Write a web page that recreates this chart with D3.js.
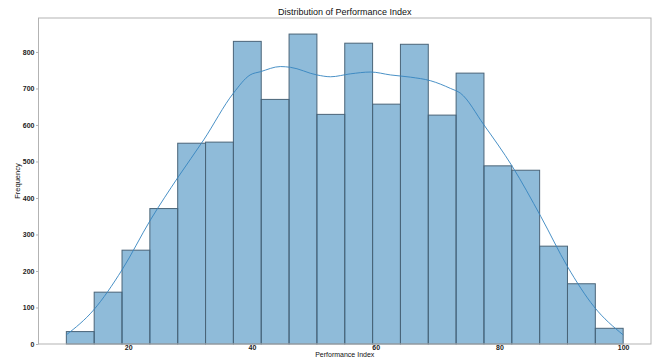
<!DOCTYPE html>
<html>
<head>
<meta charset="utf-8">
<script src="https://cdn.jsdelivr.net/npm/d3@7"></script>
<style>
  html, body { margin: 0; padding: 0; background: #fff; overflow: hidden; }
  svg { display: block; }
  text { font-family: "Liberation Sans", Arial, sans-serif; }
</style>
</head>
<body>
<svg id="chart" width="654" height="358"></svg>
<script>
// Histogram bin edges (20 bins of width 4.5 from 10 to 100)
const binStart = 10;
const binWidth = 4.5;
const counts = [34, 142, 257, 371, 550, 553, 829, 670, 849, 629,
                824, 657, 821, 627, 742, 488, 476, 268, 165, 43];

// Kernel density estimate, scaled to counts
const kdeX = [10, 14.4, 19.0, 23.6, 28.1, 32.2, 37.0, 39.7, 41.4, 44.6, 46.2, 50.5, 52.7,
              55.9, 59.2, 62.4, 65.6, 68.9, 72.1, 73.7, 77.5, 82.1, 86.7, 91.0, 95.3, 100];
const kdeY = [25, 93, 203, 340, 458, 559, 687, 737, 746, 760, 758, 737, 732,
              740, 745, 737, 731, 721, 700, 687, 600, 486, 349, 212, 102, 25];

const xTicks = [20, 40, 60, 80, 100];
const yTicks = [0, 100, 200, 300, 400, 500, 600, 700, 800];

const svg = d3.select("#chart");
const m = { left: 38.5, right: 651, top: 18, bottom: 344 };

const x = d3.scaleLinear().domain([5.5, 104.5]).range([m.left, m.right]);
const y = d3.scaleLinear().domain([0, 893]).range([m.bottom, m.top]);

const bins = counts.map((c, i) => ({ x0: binStart + i * binWidth, x1: binStart + (i + 1) * binWidth, c }));

// Bars
svg.append("g").selectAll("rect").data(bins).join("rect")
  .attr("x", d => x(d.x0))
  .attr("y", d => y(d.c))
  .attr("width", d => x(d.x1) - x(d.x0))
  .attr("height", d => y(0) - y(d.c))
  .attr("fill", "rgba(31,119,180,0.5)")
  .attr("stroke", "#4a6478")
  .attr("stroke-width", 1);

// KDE line
const line = d3.line().x((d, i) => x(kdeX[i])).y(d => y(d)).curve(d3.curveMonotoneX);
svg.append("path").datum(kdeY)
  .attr("d", line)
  .attr("fill", "none")
  .attr("stroke", "#3585c0")
  .attr("stroke-width", 0.9);

// Frame
svg.append("rect")
  .attr("x", m.left).attr("y", m.top)
  .attr("width", m.right - m.left).attr("height", m.bottom - m.top)
  .attr("fill", "none").attr("stroke", "#b3b3b3").attr("stroke-width", 1);

// Axes
const xAxis = d3.axisBottom(x).tickValues(xTicks).tickSize(0).tickPadding(1);
const yAxis = d3.axisLeft(y).tickValues(yTicks).tickSize(2.5).tickPadding(1.5);

const gx = svg.append("g").attr("transform", `translate(0,${m.bottom})`).call(xAxis);
const gy = svg.append("g").attr("transform", `translate(${m.left},0)`).call(yAxis);
[gx, gy].forEach(g => {
  g.select(".domain").remove();
  g.selectAll("line").attr("stroke", "#b3b3b3");
  g.selectAll("text")
    .attr("fill", "#222")
    .style("font-size", "7px")
    .style("font-weight", "bold")
    .style("font-family", "'Liberation Sans', Arial, sans-serif");
});

// Title and axis labels
svg.append("text")
  .attr("x", (m.left + m.right) / 2).attr("y", 14.5)
  .attr("text-anchor", "middle")
  .style("font-size", "9px").attr("fill", "#111")
  .text("Distribution of Performance Index");

svg.append("text")
  .attr("x", (m.left + m.right) / 2).attr("y", 357)
  .attr("text-anchor", "middle")
  .style("font-size", "7px").attr("fill", "#111")
  .text("Performance Index");

svg.append("text")
  .attr("transform", `translate(20,${(m.top + m.bottom) / 2}) rotate(-90)`)
  .attr("text-anchor", "middle")
  .style("font-size", "7.5px").attr("fill", "#111")
  .text("Frequency");
</script>
</body>
</html>
